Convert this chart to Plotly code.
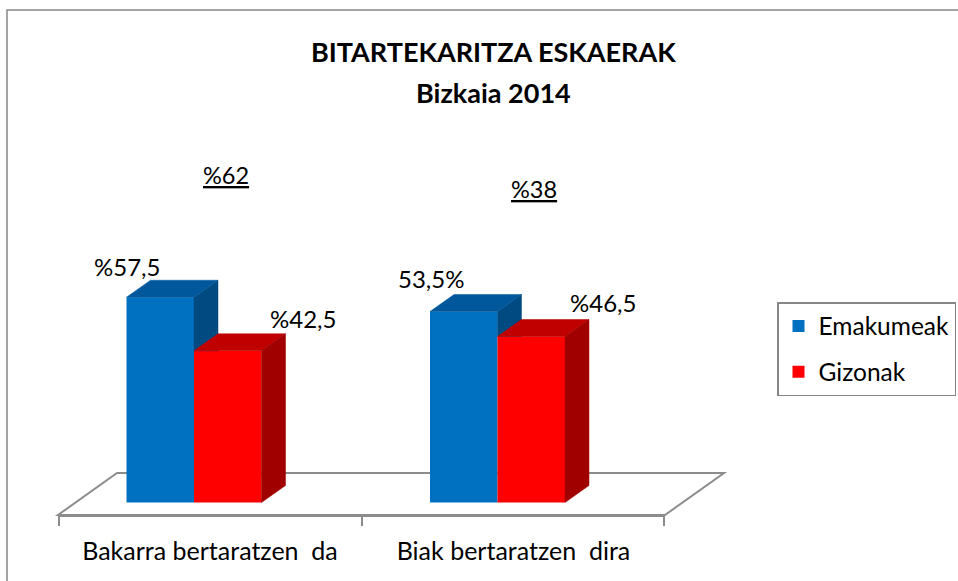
import plotly.graph_objects as go

# ---- data ----
categories = ["Bakarra bertaratzen\u00a0 da", "Biak bertaratzen\u00a0 dira"]
emakumeak = [57.5, 53.5]
gizonak = [42.5, 46.5]
emakumeak_labels = ["%57,5", "53,5%"]
gizonak_labels = ["%42,5", "%46,5"]
total_labels = ["%62", "%38"]
series_names = ["Emakumeak", "Gizonak"]

# ---- style / geometry (page pixel targets) ----
W, H = 975, 581                             # a little wider than the window; overflow hidden
PL, PR, PT, PB = 58, 665, 20, 515          # plot area in page px
ML, MR, MT, MB = PL, W - PR, PT, H - PB
pw, ph = PR - PL, PB - PT
PX_PER_CAT = 303.5
PX_PER_VAL = 3.57
C0 = 194                                    # page px of category 0 centre
Y0 = 502.5                                  # page px of value 0
XR = [(PL - C0) / PX_PER_CAT, (PR - C0) / PX_PER_CAT]
YR = [(Y0 - PB) / PX_PER_VAL, (Y0 - PT) / PX_PER_VAL]
BAR_W = 0.2224
DX = 24 / PX_PER_CAT
DY = 17 / PX_PER_VAL
FONT = "Lato, Carlito, Calibri, sans-serif"


def paper_x(p):
    return (p - PL) / pw


def paper_y(p):
    return (PB - p) / ph


BLUE, BLUE_TOP, BLUE_SIDE = "#0070C0", "#00589C", "#004A82"
RED, RED_TOP, RED_SIDE = "#FF0000", "#C00000", "#A00000"
GRID = "#8c8c8c"

fig = go.Figure()
xs = list(range(len(categories)))
fig.add_trace(go.Bar(x=xs, y=emakumeak, name=series_names[0], marker=dict(color=BLUE, line=dict(width=0)),
                     legendgroup="a", hoverinfo="skip"))
fig.add_trace(go.Bar(x=xs, y=gizonak, name=series_names[1], marker=dict(color=RED, line=dict(width=0)),
                     legendgroup="b", hoverinfo="skip"))


def poly(px, py, color):
    fig.add_trace(go.Scatter(x=px + [px[0]], y=py + [py[0]], fill="toself", fillcolor=color,
                             mode="lines", line=dict(width=0.5, color=color), showlegend=False,
                             hoverinfo="skip"))


for i, (vb, vr) in enumerate(zip(emakumeak, gizonak)):
    xl, xr = i - BAR_W, i
    low = min(vr, vb)
    poly([xr, xr, xr + DX, xr + DX], [low, vb, vb + DY, low], BLUE_SIDE)
    poly([xl, xr, xr + DX, xl + DX], [vb, vb, vb + DY, vb + DY], BLUE_TOP)
    xl2, xr2 = i, i + BAR_W
    poly([xl2, xr2, xr2 + DX, xl2 + DX], [vr, vr, vr + DY, vr + DY], RED_TOP)
    poly([xr2, xr2, xr2 + DX, xr2 + DX], [0, vr, vr + DY, DY], RED_SIDE)

annotations = []
blue_shift = [(-33, 31), (-33, 33)]
red_shift = [(75, 32), (72, 34)]
for i in xs:
    annotations.append(dict(x=i - BAR_W / 2, y=emakumeak[i], text=emakumeak_labels[i], showarrow=False,
                            xanchor="center", yanchor="middle",
                            xshift=blue_shift[i][0], yshift=blue_shift[i][1],
                            font=dict(family=FONT, size=24, color="#000")))
    annotations.append(dict(x=i + BAR_W / 2, y=gizonak[i], text=gizonak_labels[i], showarrow=False,
                            xanchor="center", yanchor="middle",
                            xshift=red_shift[i][0], yshift=red_shift[i][1],
                            font=dict(family=FONT, size=24, color="#000")))
total_pos = [(226, 175), (534, 189)]
for i in xs:
    annotations.append(dict(x=(total_pos[i][0] - C0) / PX_PER_CAT, y=(Y0 - total_pos[i][1]) / PX_PER_VAL,
                            text=total_labels[i], showarrow=False, xanchor="center", yanchor="middle",
                            font=dict(family=FONT, size=23.5, color="#000", lineposition="under")))
annotations.append(dict(xref="paper", yref="paper", x=paper_x(493), y=paper_y(52), xanchor="center",
                        yanchor="middle", text="<b>BITARTEKARITZA ESKAERAK</b>", showarrow=False,
                        font=dict(family=FONT, size=27, color="#000")))
annotations.append(dict(xref="paper", yref="paper", x=paper_x(493), y=paper_y(93), xanchor="center",
                        yanchor="middle", text="<b>Bizkaia 2014</b>", showarrow=False,
                        font=dict(family=FONT, size=27, color="#000")))

shapes = [
    dict(type="path", xref="paper", yref="paper",
         path=f"M 0 0 L {paper_x(117)} {paper_y(473)} L {paper_x(724)} {paper_y(473)} L 1 0 Z",
         line=dict(color=GRID, width=2), fillcolor="white", layer="below"),
    dict(type="rect", xref="paper", yref="paper",
         x0=paper_x(7), x1=paper_x(990), y0=paper_y(600), y1=paper_y(10),
         line=dict(color="#868686", width=1.5), fillcolor="rgba(0,0,0,0)", layer="below"),
]

fig.update_layout(
    width=W, height=H, autosize=False,
    margin=dict(l=ML, r=MR, t=MT, b=MB, pad=0),
    paper_bgcolor="white", plot_bgcolor="rgba(0,0,0,0)",
    barmode="group", bargap=1 - 2 * BAR_W, bargroupgap=0,
    showlegend=True,
    legend=dict(x=paper_x(777), y=paper_y(302), xanchor="left", yanchor="top",
                bordercolor="#868686", borderwidth=1.5, bgcolor="white",
                font=dict(family=FONT, size=24.5, color="#000"), tracegroupgap=11,
                traceorder="grouped"),
    annotations=annotations, shapes=shapes,
    xaxis=dict(range=XR, showgrid=False, zeroline=False, showline=True, linecolor=GRID, linewidth=2,
               tickmode="array", tickvals=[(210 - C0) / PX_PER_CAT, (513.5 - C0) / PX_PER_CAT],
               ticktext=categories, ticks="", ticklabelstandoff=13,
               tickfont=dict(family=FONT, size=25, color="#000"),
               minor=dict(tickmode="array",
                          tickvals=[XR[0] + 0.003, (362 - C0) / PX_PER_CAT, XR[1] - 0.003],
                          ticks="outside", ticklen=9, tickwidth=2, tickcolor=GRID, showgrid=False),
               fixedrange=True),
    yaxis=dict(range=YR, visible=False, fixedrange=True),
)

fig.write_html("out.html", config={"displayModeBar": False},
               post_script="document.body.style.margin='0';document.body.style.overflow='hidden';")
